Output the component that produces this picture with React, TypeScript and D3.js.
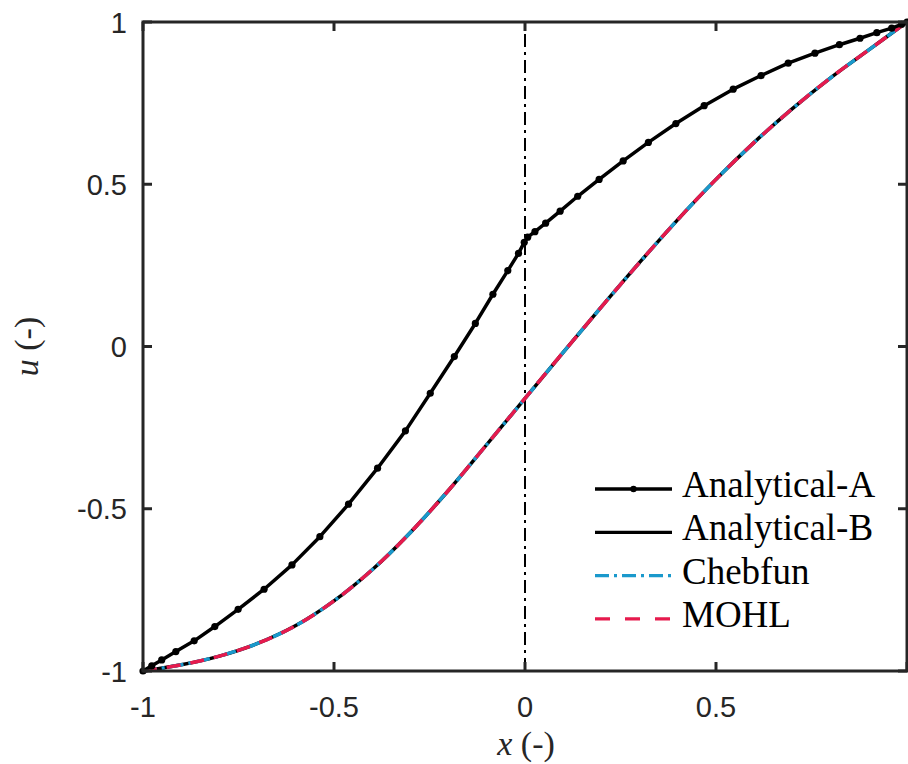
import React from "react";
import * as d3 from "d3";

const xTicks = [-1, -0.5, 0, 0.5];
const xTickLabels = ["-1", "-0.5", "0", "0.5"];
const yTicks = [-1, -0.5, 0, 0.5, 1];
const yTickLabels = ["-1", "-0.5", "0", "0.5", "1"];

const analyticalAX = [-1, -0.977, -0.951, -0.914, -0.866, -0.812, -0.751, -0.683, -0.61, -0.537, -0.462, -0.386, -0.313, -0.248, -0.185, -0.13, -0.084, -0.045, -0.017, -0.002, 0.007, 0.026, 0.054, 0.092, 0.138, 0.194, 0.257, 0.323, 0.395, 0.469, 0.545, 0.618, 0.689, 0.759, 0.823, 0.877, 0.921, 0.96, 0.986, 1];
const analyticalAY = [-1, -0.984, -0.966, -0.94, -0.907, -0.863, -0.81, -0.748, -0.673, -0.586, -0.486, -0.375, -0.26, -0.144, -0.031, 0.071, 0.161, 0.234, 0.287, 0.321, 0.337, 0.354, 0.38, 0.417, 0.463, 0.515, 0.572, 0.629, 0.687, 0.742, 0.793, 0.835, 0.873, 0.904, 0.93, 0.95, 0.967, 0.981, 0.993, 1];

const smoothX = [-1, -0.9, -0.8, -0.7, -0.6, -0.5, -0.4, -0.3, -0.2, -0.1, 0, 0.1, 0.2, 0.3, 0.4, 0.5, 0.6, 0.7, 0.8, 0.9, 1];
const smoothY = [-1, -0.981, -0.954, -0.915, -0.86, -0.784, -0.688, -0.573, -0.443, -0.302, -0.16, -0.018, 0.122, 0.259, 0.391, 0.515, 0.629, 0.733, 0.828, 0.914, 1];

const legendNames = ["Analytical-A", "Analytical-B", "Chebfun", "MOHL"];

const BLUE = "#1a99cc";
const RED = "#e61a4d";
const AX = "#262626";

export default function App() {
  const x = d3.scaleLinear().domain([-1, 1]).range([143, 907]);
  const y = d3.scaleLinear().domain([-1, 1]).range([671, 22]);

  const aPts: [number, number][] = analyticalAX.map((v, i) => [v, analyticalAY[i]]);
  const sPts: [number, number][] = smoothX.map((v, i) => [v, smoothY[i]]);

  const linA = d3.line<[number, number]>().x((d) => x(d[0])).y((d) => y(d[1]));
  const smooth = d3
    .line<[number, number]>()
    .x((d) => x(d[0]))
    .y((d) => y(d[1]))
    .curve(d3.curveCatmullRom.alpha(0.5));

  const sPath = smooth(sPts) || "";
  const tickLen = 9;
  const [x0, x1] = x.range();
  const [y0, y1] = y.range();

  const legendLineX0 = 595;
  const legendLineX1 = 672;
  const legendY0 = 489;
  const legendDy = 43.3;

  return (
    <svg
      width={908}
      height={764}
      style={{ position: "absolute", left: 0, top: 0, background: "#fff" }}
    >
      <rect x={0} y={0} width={908} height={764} fill="#fff" />
      {/* vertical dash-dot at x=0 */}
      <line
        x1={x(0)}
        x2={x(0)}
        y1={y(-1)}
        y2={y(1)}
        stroke="#000"
        strokeWidth={2}
        strokeDasharray="13,5,3,5"
      />
      {/* Analytical-B */}
      <path d={sPath} fill="none" stroke="#000" strokeWidth={3.5} />
      {/* Chebfun */}
      <path d={sPath} fill="none" stroke={BLUE} strokeWidth={3.5} strokeDasharray="14,5,3,5" />
      {/* MOHL */}
      <path d={sPath} fill="none" stroke={RED} strokeWidth={3.5} strokeDasharray="14,10" />
      {/* Analytical-A */}
      <path d={linA(aPts) || ""} fill="none" stroke="#000" strokeWidth={3.5} strokeLinejoin="round" />
      {aPts.map((d, i) => (
        <circle key={i} cx={x(d[0])} cy={y(d[1])} r={3.6} fill="#000" />
      ))}

      {/* axes box */}
      <rect x={x0} y={y1} width={x1 - x0} height={y0 - y1} fill="none" stroke={AX} strokeWidth={3} />
      {xTicks.map((t, i) => (
        <g key={"xt" + i}>
          <line x1={x(t)} x2={x(t)} y1={y0} y2={y0 - tickLen} stroke={AX} strokeWidth={3} />
          <line x1={x(t)} x2={x(t)} y1={y1} y2={y1 + tickLen} stroke={AX} strokeWidth={3} />
          <text
            x={x(t)}
            y={717}
            textAnchor="middle"
            fontFamily="Liberation Sans, Arial, sans-serif"
            fontSize={29}
            fill={AX}
          >
            {xTickLabels[i]}
          </text>
        </g>
      ))}
      <line x1={x(1)} x2={x(1)} y1={y0} y2={y0 - tickLen} stroke={AX} strokeWidth={3} />
      {yTicks.map((t, i) => (
        <g key={"yt" + i}>
          <line x1={x0} x2={x0 + tickLen} y1={y(t)} y2={y(t)} stroke={AX} strokeWidth={3} />
          <line x1={x1} x2={x1 - tickLen} y1={y(t)} y2={y(t)} stroke={AX} strokeWidth={3} />
          <text
            x={127}
            y={y(t) + 10.5}
            textAnchor="end"
            fontFamily="Liberation Sans, Arial, sans-serif"
            fontSize={29}
            fill={AX}
          >
            {yTickLabels[i]}
          </text>
        </g>
      ))}

      {/* axis labels */}
      <text
        x={526}
        y={755}
        textAnchor="middle"
        fontFamily="Liberation Serif, Times New Roman, serif"
        fontSize={34}
        fill={AX}
      >
        <tspan fontStyle="italic">x</tspan>
        <tspan> (-)</tspan>
      </text>
      <text
        transform={`translate(38,${y(0)}) rotate(-90)`}
        textAnchor="middle"
        fontFamily="Liberation Serif, Times New Roman, serif"
        fontSize={34}
        fill={AX}
      >
        <tspan fontStyle="italic">u</tspan>
        <tspan> (-)</tspan>
      </text>

      {/* legend */}
      {legendNames.map((name, i) => {
        const ly = legendY0 + i * legendDy;
        return (
          <g key={"lg" + i}>
            {i === 0 && (
              <>
                <line x1={legendLineX0} x2={legendLineX1} y1={ly} y2={ly} stroke="#000" strokeWidth={3.3} />
                <circle cx={(legendLineX0 + legendLineX1) / 2} cy={ly} r={3.2} fill="#000" />
              </>
            )}
            {i === 1 && (
              <line x1={legendLineX0} x2={legendLineX1} y1={ly} y2={ly} stroke="#000" strokeWidth={3.3} />
            )}
            {i === 2 && (
              <line
                x1={legendLineX0}
                x2={legendLineX1}
                y1={ly}
                y2={ly}
                stroke={BLUE}
                strokeWidth={3.3}
                strokeDasharray="14,5,3,5"
              />
            )}
            {i === 3 && (
              <line
                x1={legendLineX0}
                x2={legendLineX1}
                y1={ly}
                y2={ly}
                stroke={RED}
                strokeWidth={3.3}
                strokeDasharray="15,15"
              />
            )}
            <text
              x={682}
              y={ly + 8}
              fontFamily="Liberation Serif, Times New Roman, serif"
              fontSize={37}
              fill="#000"
            >
              {name}
            </text>
          </g>
        );
      })}
    </svg>
  );
}
